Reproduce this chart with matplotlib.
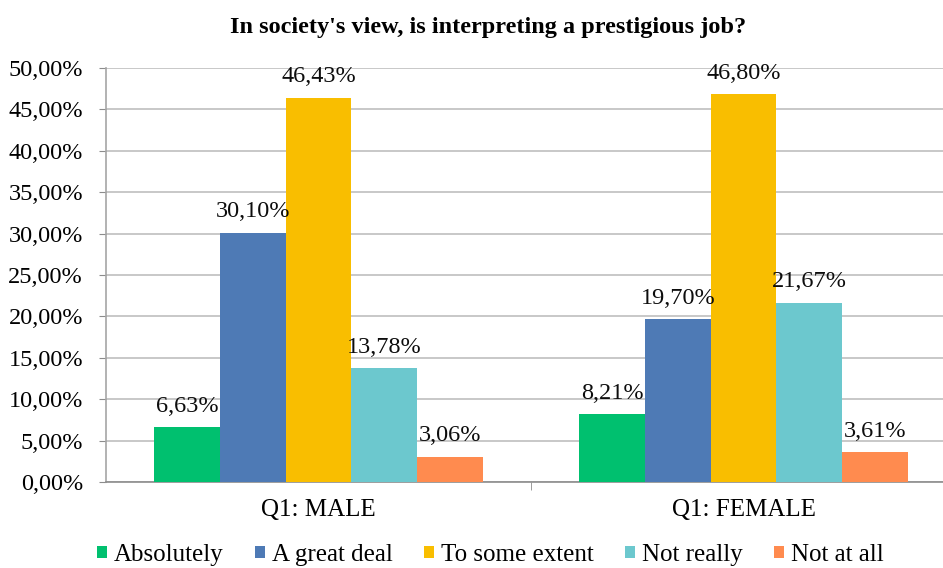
import numpy as np
import matplotlib
matplotlib.use('Agg')
import matplotlib.pyplot as plt
from matplotlib.ticker import FuncFormatter

# Datos
groups = ['Q1: MALE', 'Q1: FEMALE']
answers = ['Absolutely', 'A great deal', 'To some extent', 'Not really', 'Not at all']
male = [6.63, 30.10, 46.43, 13.78, 3.06]
female = [8.21, 19.70, 46.80, 21.67, 3.61]
colors = ['#00C06F', '#4E7AB5', '#F9BE00', '#6CC8CE', '#FF8B4F']

plt.rcParams['font.family'] = ['Liberation Serif', 'DejaVu Serif']

fig = plt.figure(figsize=(9.43, 5.68), dpi=100)
W, H = 943, 568
ax = fig.add_axes([106 / W, 1 - 482 / H, (956 - 106) / W, (482 - 68) / H])

values = np.array([male, female])
x = np.arange(len(groups))
width = 0.1546
for i, ans in enumerate(answers):
    pos = x + (i - 2) * width
    bars = ax.bar(pos, values[:, i], width, color=colors[i], label=ans, zorder=3)
    for b, v in zip(bars, values[:, i]):
        ax.annotate(f'{v:.2f}%'.replace('.', ','), (b.get_x() + b.get_width() / 2, v),
                    xytext=(0, 11), textcoords='offset points', ha='center', va='baseline',
                    fontsize=17.5, color='#0D0D0D', zorder=4)

ax.set_xlim(-0.5, 1.5)
ax.set_ylim(0, 50)
ax.set_yticks(np.arange(0, 51, 5))
ax.yaxis.set_major_formatter(FuncFormatter(lambda v, p: f'{v:.2f}%'.replace('.', ',')))
ax.grid(axis='y', color='#BFBFBF', linewidth=1.2, zorder=0)

ax.set_xticks(x)
ax.set_xticklabels(groups)
ax.set_xticks([0.5], minor=True)
ax.tick_params(axis='x', which='major', length=0, labelsize=18, pad=12)
ax.tick_params(axis='x', which='minor', length=6, color='#8C8C8C')
ax.tick_params(axis='y', length=5, color='#8C8C8C', labelsize=17.5, pad=11.5)

for s in ['top', 'right']:
    ax.spines[s].set_visible(False)
ax.spines['left'].set_color('#A6A6A6')
ax.spines['bottom'].set_color('#8C8C8C')
ax.spines['left'].set_linewidth(1.2)
ax.spines['bottom'].set_linewidth(1.2)

fig.text(488 / W, 1 - 28 / H, "In society's view, is interpreting a prestigious job?",
         ha='center', va='center', fontsize=17.5, fontweight='bold')

fig.legend(loc='center', bbox_to_anchor=(490 / W, 1 - 555 / H), ncol=5, frameon=False,
           fontsize=18, handlelength=0.4, handleheight=0.4, handletextpad=0.28,
           columnspacing=1.25, borderaxespad=0, borderpad=0)

fig.savefig('out.png', dpi=100)
